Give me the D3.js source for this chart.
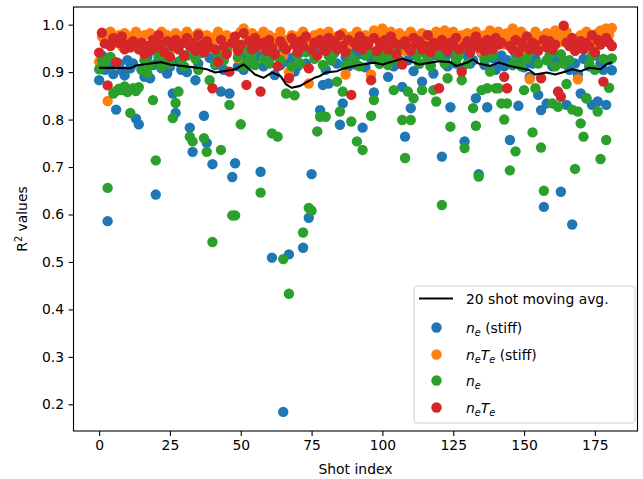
<!DOCTYPE html>
<html>
<head>
<meta charset="utf-8">
<script src="https://cdn.jsdelivr.net/npm/d3@7"></script>
<style>
  html, body { margin: 0; padding: 0; background: #fff; }
  svg { display: block; font-family: "DejaVu Sans", sans-serif; }
</style>
</head>
<body>
<script>
// R^2 of the profile fits for each shot, four fit variants.
const neStiff = [
  0.883, 0.935, 0.905, 0.586, 0.912, 0.896, 0.821, 0.918, 0.904, 0.893,
  0.925, 0.908, 0.918, 0.802, 0.790, 0.905, 0.890, 0.932, 0.887, 0.915,
  0.642, 0.928, 0.908, 0.940, 0.897, 0.911, 0.855, 0.814, 0.922, 0.905,
  0.935, 0.900, 0.783, 0.732, 0.883, 0.918, 0.946, 0.808, 0.751, 0.930,
  0.706, 0.915, 0.932, 0.859, 0.905, 0.942, 0.855, 0.679, 0.708, 0.912,
  0.938, 0.905, 0.924, 0.946, 0.918, 0.929, 0.935, 0.690, 0.912, 0.938,
  0.925, 0.509, 0.894, 0.940, 0.915, 0.184, 0.922, 0.516, 0.930, 0.901,
  0.912, 0.942, 0.530, 0.918, 0.593, 0.685, 0.935, 0.948, 0.820, 0.873,
  0.905, 0.876, 0.925, 0.940, 0.918, 0.789, 0.834, 0.932, 0.912, 0.945,
  0.925, 0.915, 0.938, 0.783, 0.910, 0.942, 0.928, 0.857, 0.935, 0.918,
  0.945, 0.925, 0.890, 0.938, 0.912, 0.930, 0.948, 0.869, 0.764, 0.925,
  0.824, 0.902, 0.935, 0.918, 0.880, 0.942, 0.928, 0.915, 0.897, 0.935,
  0.945, 0.722, 0.928, 0.912, 0.826, 0.938, 0.918, 0.942, 0.905, 0.754,
  0.935, 0.918, 0.925, 0.845, 0.685, 0.940, 0.915, 0.826, 0.932, 0.929,
  0.905, 0.918, 0.935, 0.912, 0.925, 0.757, 0.915, 0.938, 0.829, 0.922,
  0.910, 0.935, 0.890, 0.918, 0.928, 0.852, 0.820, 0.616, 0.834, 0.925,
  0.912, 0.935, 0.918, 0.648, 0.925, 0.831, 0.905, 0.579, 0.918, 0.895,
  0.855, 0.928, 0.845, 0.912, 0.831, 0.935, 0.838, 0.918, 0.905, 0.831,
  0.925, 0.904
];

const neTeStiff = [
  0.922, 0.975, 0.968, 0.839, 0.985, 0.972, 0.962, 0.978, 0.955, 0.982,
  0.968, 0.975, 0.958, 0.985, 0.972, 0.962, 0.978, 0.948, 0.982, 0.965,
  0.975, 0.958, 0.985, 0.968, 0.978, 0.945, 0.972, 0.982, 0.962, 0.975,
  0.968, 0.985, 0.955, 0.975, 0.962, 0.982, 0.948, 0.972, 0.978, 0.965,
  0.958, 0.975, 0.985, 0.938, 0.968, 0.978, 0.955, 0.972, 0.962, 0.929,
  0.985, 0.992, 0.975, 0.965, 0.982, 0.958, 0.975, 0.968, 0.985, 0.962,
  0.978, 0.948, 0.972, 0.958, 0.985, 0.935, 0.968, 0.900, 0.978, 0.962,
  0.975, 0.945, 0.985, 0.968, 0.876, 0.958, 0.978, 0.965, 0.982, 0.955,
  0.972, 0.985, 0.948, 0.968, 0.975, 0.962, 0.982, 0.895, 0.958, 0.975,
  0.968, 0.985, 0.972, 0.955, 0.978, 0.962, 0.895, 0.988, 0.975, 0.968,
  0.992, 0.978, 0.962, 0.985, 0.955, 0.972, 0.982, 0.968, 0.945, 0.978,
  0.985, 0.962, 0.975, 0.958, 0.982, 0.968, 0.948, 0.978, 0.965, 0.985,
  0.972, 0.958, 0.988, 0.975, 0.962, 0.985, 0.968, 0.952, 0.978, 0.965,
  0.982, 0.975, 0.958, 0.985, 0.968, 0.942, 0.978, 0.962, 0.988, 0.972,
  0.965, 0.985, 0.975, 0.958, 0.982, 0.968, 0.992, 0.975, 0.962, 0.985,
  0.978, 0.945, 0.885, 0.972, 0.985, 0.962, 0.975, 0.958, 0.982, 0.968,
  0.975, 0.988, 0.962, 0.978, 0.965, 0.985, 0.972, 0.955, 0.948, 0.885,
  0.978, 0.962, 0.985, 0.968, 0.975, 0.958, 0.982, 0.988, 0.965, 0.992,
  0.978, 0.993
];

const ne = [
  0.906, 0.925, 0.915, 0.656, 0.932, 0.855, 0.860, 0.865, 0.862, 0.870,
  0.858, 0.814, 0.866, 0.860, 0.868, 0.905, 0.925, 0.898, 0.915, 0.841,
  0.714, 0.935, 0.912, 0.928, 0.945, 0.918, 0.803, 0.835, 0.859, 0.925,
  0.912, 0.935, 0.764, 0.754, 0.928, 0.905, 0.940, 0.761, 0.732, 0.883,
  0.542, 0.918, 0.935, 0.736, 0.925, 0.948, 0.831, 0.598, 0.598, 0.932,
  0.790, 0.912, 0.945, 0.925, 0.938, 0.915, 0.955, 0.646, 0.928, 0.940,
  0.918, 0.771, 0.935, 0.764, 0.925, 0.506, 0.855, 0.433, 0.912, 0.851,
  0.935, 0.918, 0.562, 0.942, 0.614, 0.608, 0.928, 0.775, 0.806, 0.915,
  0.806, 0.935, 0.925, 0.942, 0.880, 0.817, 0.859, 0.915, 0.938, 0.796,
  0.925, 0.754, 0.912, 0.736, 0.935, 0.945, 0.808, 0.841, 0.928, 0.918,
  0.935, 0.942, 0.915, 0.928, 0.862, 0.945, 0.925, 0.799, 0.719, 0.859,
  0.799, 0.845, 0.935, 0.918, 0.862, 0.940, 0.928, 0.912, 0.862, 0.838,
  0.935, 0.620, 0.918, 0.887, 0.785, 0.942, 0.925, 0.935, 0.883, 0.740,
  0.918, 0.945, 0.824, 0.787, 0.680, 0.862, 0.928, 0.866, 0.901, 0.935,
  0.866, 0.866, 0.834, 0.800, 0.834, 0.693, 0.918, 0.733, 0.935, 0.912,
  0.862, 0.928, 0.942, 0.773, 0.866, 0.918, 0.741, 0.650, 0.925, 0.935,
  0.834, 0.912, 0.827, 0.938, 0.918, 0.875, 0.925, 0.821, 0.696, 0.817,
  0.792, 0.764, 0.845, 0.918, 0.935, 0.905, 0.817, 0.717, 0.928, 0.757,
  0.867, 0.929
];

const neTe = [
  0.941, 0.983, 0.960, 0.872, 0.955, 0.972, 0.921, 0.962, 0.975, 0.948,
  0.958, 0.952, 0.965, 0.955, 0.948, 0.962, 0.938, 0.955, 0.945, 0.968,
  0.952, 0.978, 0.958, 0.942, 0.965, 0.932, 0.955, 0.968, 0.948, 0.960,
  0.935, 0.972, 0.955, 0.962, 0.945, 0.978, 0.958, 0.942, 0.965, 0.952,
  0.866, 0.948, 0.922, 0.968, 0.955, 0.938, 0.901, 0.962, 0.975, 0.945,
  0.958, 0.982, 0.873, 0.965, 0.948, 0.972, 0.955, 0.859, 0.962, 0.945,
  0.968, 0.952, 0.938, 0.912, 0.965, 0.955, 0.948, 0.887, 0.972, 0.958,
  0.942, 0.965, 0.955, 0.975, 0.908, 0.948, 0.962, 0.935, 0.968, 0.955,
  0.945, 0.972, 0.958, 0.965, 0.948, 0.978, 0.955, 0.942, 0.968, 0.852,
  0.962, 0.955, 0.975, 0.948, 0.965, 0.958, 0.883, 0.972, 0.945, 0.962,
  0.955, 0.968, 0.948, 0.975, 0.962, 0.938, 0.958, 0.916, 0.965, 0.952,
  0.945, 0.972, 0.958, 0.965, 0.948, 0.955, 0.978, 0.942, 0.962, 0.955,
  0.866, 0.968, 0.952, 0.945, 0.962, 0.958, 0.972, 0.948, 0.901, 0.955,
  0.965, 0.942, 0.958, 0.975, 0.952, 0.962, 0.945, 0.968, 0.955, 0.948,
  0.972, 0.958, 0.962, 0.890, 0.866, 0.955, 0.948, 0.968, 0.942, 0.962,
  0.955, 0.975, 0.948, 0.962, 0.958, 0.945, 0.887, 0.968, 0.952, 0.965,
  0.948, 0.958, 0.859, 0.848, 0.998, 0.962, 0.955, 0.972, 0.945, 0.958,
  0.965, 0.948, 0.962, 0.955, 0.978, 0.942, 0.968, 0.958, 0.880, 0.972,
  0.962, 0.955
];

// 20 shot moving average (shot index, value)
const maShots = [0, 5, 11, 13, 18, 22, 25, 28, 32, 35, 38, 41, 44, 46, 48, 51, 53, 55, 58, 61,
  64, 66, 68, 71, 73, 76, 78, 80, 84, 86, 90, 93, 97, 100, 104, 107, 110, 113, 117, 120,
  124, 126, 130, 132, 134, 138, 141, 145, 148, 152, 154, 158, 161, 165, 167, 170, 173, 177, 179, 181];
const maValues = [0.909, 0.909, 0.908, 0.914, 0.918, 0.921, 0.916, 0.914, 0.911, 0.909,
  0.906, 0.899, 0.902, 0.904, 0.906, 0.916, 0.906, 0.895, 0.888, 0.899,
  0.892, 0.874, 0.867, 0.871, 0.878, 0.888, 0.892, 0.899, 0.902, 0.907,
  0.913, 0.916, 0.920, 0.916, 0.923, 0.928, 0.923, 0.916, 0.920, 0.923,
  0.921, 0.913, 0.920, 0.927, 0.918, 0.913, 0.920, 0.913, 0.909, 0.904,
  0.895, 0.899, 0.895, 0.902, 0.906, 0.902, 0.909, 0.906, 0.916, 0.921];

const xTicks = [0, 25, 50, 75, 100, 125, 150, 175];
const yTicks = [0.2, 0.3, 0.4, 0.5, 0.6, 0.7, 0.8, 0.9, 1.0];

const seriesList = [
  { name: "neStiff", values: neStiff, color: "#1f77b4" },
  { name: "neTeStiff", values: neTeStiff, color: "#ff7f0e" },
  { name: "ne", values: ne, color: "#2ca02c" },
  { name: "neTe", values: neTe, color: "#d62728" }
];

const W = 643, H = 479;
const margin = { left: 73.5, top: 7, right: 5.5, bottom: 48 };
const iw = W - margin.left - margin.right;
const ih = H - margin.top - margin.bottom;
const FS = 13.9;

const svg = d3.select("body").append("svg").attr("width", W).attr("height", H);
const g = svg.append("g").attr("transform", `translate(${margin.left},${margin.top})`);

const x = d3.scaleLinear().domain([-9.05, 190.05]).range([0, iw]);
const y = d3.scaleLinear().domain([0.1438, 1.0372]).range([ih, 0]);

// scatter series, drawn in order so red ends on top
seriesList.forEach(s => {
  g.append("g").selectAll("circle")
    .data(s.values)
    .join("circle")
    .attr("cx", (d, i) => x(i))
    .attr("cy", d => y(d))
    .attr("r", 5.2)
    .attr("fill", s.color);
});

// moving average line
const line = d3.line().x(d => x(d[0])).y(d => y(d[1]));
g.append("path")
  .datum(maShots.map((s, i) => [s, maValues[i]]))
  .attr("d", line)
  .attr("fill", "none")
  .attr("stroke", "#000")
  .attr("stroke-width", 2.08)
  .attr("stroke-linejoin", "round");

// axes
const xAxis = d3.axisBottom(x).tickValues(xTicks).tickFormat(d3.format("d")).tickSizeOuter(0).tickSize(4.9).tickPadding(4.5);
const yAxis = d3.axisLeft(y).tickValues(yTicks).tickFormat(d3.format(".1f")).tickSizeOuter(0).tickSize(4.9).tickPadding(4.5);

const gx = g.append("g").attr("transform", `translate(0,${ih})`).call(xAxis);
const gy = g.append("g").call(yAxis);
[gx, gy].forEach(a => {
  a.select(".domain").remove();
  a.selectAll("line").attr("stroke", "#000").attr("stroke-width", 1.1);
  a.selectAll("text").attr("fill", "#000").style("font-size", FS + "px").style("font-family", "DejaVu Sans");
});

// frame
g.append("rect").attr("x", 0).attr("y", 0).attr("width", iw).attr("height", ih)
  .attr("fill", "none").attr("stroke", "#000").attr("stroke-width", 1.1);

// axis labels
svg.append("text")
  .attr("x", margin.left + iw / 2).attr("y", 474)
  .attr("text-anchor", "middle").style("font-size", FS + "px")
  .text("Shot index");

const yl = svg.append("text")
  .attr("transform", `translate(27,${margin.top + ih / 2}) rotate(-90)`)
  .attr("text-anchor", "middle").style("font-size", FS + "px");
yl.append("tspan").text("R");
yl.append("tspan").attr("dy", -5.5).style("font-size", "9.7px").text("2");
yl.append("tspan").attr("dy", 5.5).text(" values");

// legend
const lg = svg.append("g");
lg.append("rect").attr("x", 414).attr("y", 286).attr("width", 221).attr("height", 137)
  .attr("rx", 3).attr("fill", "#fff").attr("fill-opacity", 0.8)
  .attr("stroke", "#d0d0d0").attr("stroke-width", 1);

const rowY = [298.5, 327.5, 354.5, 380.5, 407.5];
const textX = 466;
lg.append("line").attr("x1", 419).attr("x2", 453).attr("y1", rowY[0]).attr("y2", rowY[0])
  .attr("stroke", "#000").attr("stroke-width", 2.08);
lg.append("text").attr("x", textX).attr("y", rowY[0] + 5).style("font-size", FS + "px").text("20 shot moving avg.");

const labelParts = [
  [["n", "i"], ["e", "s"], [" (stiff)", "r"]],
  [["n", "i"], ["e", "s"], ["T", "i"], ["e", "s"], [" (stiff)", "r"]],
  [["n", "i"], ["e", "s"]],
  [["n", "i"], ["e", "s"], ["T", "i"], ["e", "s"]]
];

seriesList.forEach((s, k) => {
  const yy = rowY[k + 1];
  lg.append("circle").attr("cx", 436.5).attr("cy", yy).attr("r", 5.2).attr("fill", s.color);
  const t = lg.append("text").attr("x", textX).attr("y", yy + 5).style("font-size", FS + "px");
  let prevSub = false;
  labelParts[k].forEach(([str, kind]) => {
    const ts = t.append("tspan").text(str);
    if (kind === "s") {
      ts.attr("dy", prevSub ? 0 : 3).style("font-size", "9.7px").style("font-style", "italic");
      prevSub = true;
    } else {
      if (prevSub) ts.attr("dy", -3);
      prevSub = false;
      if (kind === "i") ts.style("font-style", "italic");
    }
  });
});
</script>
</body>
</html>
